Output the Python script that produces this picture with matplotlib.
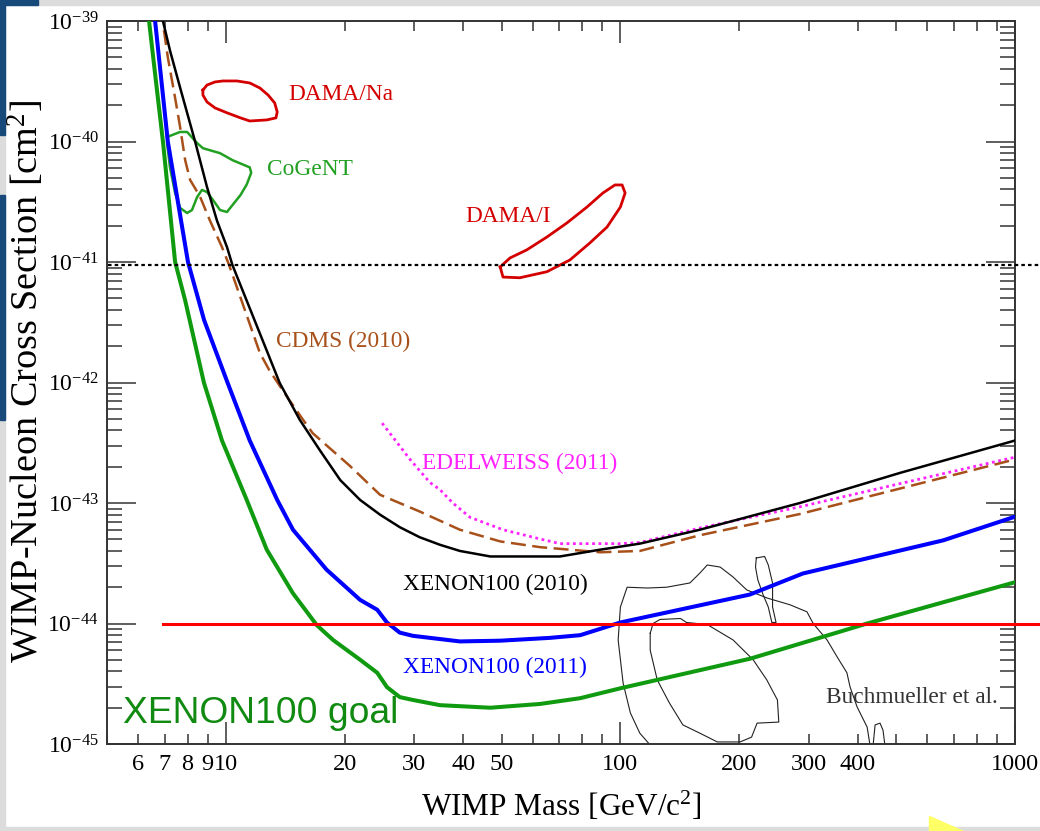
import numpy as np
import matplotlib
matplotlib.use('Agg')
import matplotlib.pyplot as plt
from matplotlib.ticker import LogLocator, FixedLocator, FuncFormatter, NullFormatter
from matplotlib.patches import Rectangle, Polygon

plt.rcParams['font.family'] = ['Liberation Serif', 'DejaVu Serif']
plt.rcParams['mathtext.fontset'] = 'custom'
plt.rcParams['mathtext.rm'] = 'Liberation Serif'
plt.rcParams['mathtext.it'] = 'Liberation Serif:italic'
plt.rcParams['mathtext.bf'] = 'Liberation Serif:bold'

# ---------------- data (WIMP mass [GeV], cross-section [cm^2]) ----------------
goal_mass = [6.39, 6.65, 6.93, 7.44, 7.89, 8.8, 9.78, 11.3, 12.7, 14.8, 17.0, 18.7, 21.9, 24.2,
             25.6, 27.6, 29.8, 34.9, 46.8, 62.6, 79.1, 100, 213, 422, 1000]
goal_xsec = [1e-39, 3.2e-40, 1e-40, 1e-41, 4.8e-42, 1e-42, 3.3e-43, 1.06e-43, 4.1e-44, 1.78e-44,
             9.7e-45, 7.3e-45, 5.0e-45, 3.9e-45, 2.97e-45, 2.45e-45, 2.32e-45, 2.1e-45, 2.0e-45,
             2.15e-45, 2.4e-45, 2.9e-45, 5.1e-45, 1.0e-44, 2.2e-44]

x11_mass = [6.62, 7.13, 8.02, 8.81, 10.1, 11.5, 13.5, 14.8, 18.0, 21.9, 24.2, 25.6, 27.6, 29.8,
            39.2, 49.6, 66.3, 79.1, 100, 213, 290, 658, 1000]
x11_xsec = [1e-39, 1e-40, 1e-41, 3.3e-42, 1e-42, 3.3e-43, 1.06e-43, 6.0e-44, 2.8e-44, 1.57e-44,
            1.30e-44, 1.02e-44, 8.4e-45, 7.9e-45, 7.1e-45, 7.2e-45, 7.6e-45, 8.0e-45, 1.02e-44,
            1.74e-44, 2.6e-44, 4.9e-44, 7.7e-44]

x10_mass = [6.93, 7.22, 7.66, 8.36, 8.96, 9.5, 10.07, 10.4, 13.7, 15.4, 17.3, 19.5, 21.9, 24.6,
            27.6, 31.0, 34.9, 39.2, 46.8, 70.3, 88.9, 112, 159, 285, 512, 1000]
x10_xsec = [1e-39, 5.7e-40, 2.8e-40, 1e-40, 4.2e-41, 2.2e-41, 1.33e-41, 9.4e-42, 9.9e-43, 4.9e-43,
            2.75e-43, 1.55e-43, 1.06e-43, 8.0e-44, 6.3e-44, 5.2e-44, 4.5e-44, 4.0e-44, 3.6e-44,
            3.6e-44, 4.1e-44, 4.6e-44, 6.0e-44, 1.0e-43, 1.78e-43, 3.3e-43]

cdms_mass = [6.97, 7.13, 7.44, 7.66, 7.89, 8.12, 8.60, 9.12, 9.78, 10.2, 12.2, 12.9, 14.3, 15.7,
             16.6, 20.6, 24.6, 31.0, 39.2, 49.6, 62.6, 88.9, 112, 159, 285, 512, 1000]
cdms_xsec = [8.4e-40, 5.0e-40, 2.3e-40, 1.32e-40, 7.0e-41, 4.8e-41, 3.5e-41, 2.2e-41, 1.33e-41,
             9.4e-42, 1.76e-42, 1.26e-42, 7.6e-43, 4.9e-43, 3.8e-43, 2.04e-43, 1.17e-43, 8.5e-44,
             6.0e-44, 4.8e-44, 4.3e-44, 3.9e-44, 4.0e-44, 5.4e-44, 8.1e-44, 1.32e-43, 2.3e-43]

edel_mass = [24.9, 29.3, 32.9, 34.9, 37.6, 41.6, 50.4, 61.5, 70.3, 82.3, 100, 112, 159, 285, 512, 1000]
edel_xsec = [4.6e-43, 2.3e-43, 1.48e-43, 1.29e-43, 1.0e-43, 7.6e-44, 6.0e-44, 5.1e-44, 4.6e-44,
             4.6e-44, 4.6e-44, 4.7e-44, 6.2e-44, 9.3e-44, 1.45e-43, 2.4e-43]

damana_mass = [8.75, 8.96, 9.39, 9.84, 10.67, 11.5, 12.2, 12.8, 13.3, 13.5, 13.4, 12.7, 11.5,
               10.9, 10.07, 9.39, 8.96, 8.75, 8.75]
damana_xsec = [2.67e-40, 2.94e-40, 3.12e-40, 3.18e-40, 3.18e-40, 3.06e-40, 2.78e-40, 2.43e-40,
               2.09e-40, 1.76e-40, 1.57e-40, 1.51e-40, 1.48e-40, 1.57e-40, 1.73e-40, 1.90e-40,
               2.13e-40, 2.43e-40, 2.67e-40]

cogent_mass = [7.10, 7.66, 7.98, 8.46, 8.75, 9.67, 10.4, 11.5, 11.6, 11.3, 10.9, 10.4, 10.07,
               9.67, 9.28, 8.96, 8.70, 8.46, 8.21, 7.98, 7.66, 7.44, 7.22, 7.10, 7.10]
cogent_xsec = [1.09e-40, 1.20e-40, 1.20e-40, 9.7e-41, 8.8e-41, 8.0e-41, 7.0e-41, 6.1e-41, 5.5e-41,
               4.4e-41, 3.6e-41, 2.97e-41, 2.60e-41, 2.70e-41, 3.27e-41, 3.81e-41, 3.96e-41,
               3.46e-41, 2.70e-41, 2.55e-41, 2.81e-41, 3.74e-41, 6.1e-41, 9.7e-41, 1.09e-40]

damai_mass = [49.6, 50.4, 55.6, 65.1, 74.5, 83.7, 92.5, 100, 102.8, 101, 96.9, 90.3, 82.3, 73.2,
              65.1, 57.9, 52.5, 49.6]
damai_xsec = [9.1e-42, 7.5e-42, 7.4e-42, 8.3e-42, 1.04e-41, 1.44e-41, 1.95e-41, 2.86e-41, 3.74e-41,
              4.36e-41, 4.36e-41, 3.74e-41, 2.86e-41, 2.11e-41, 1.61e-41, 1.26e-41, 1.08e-41, 9.1e-42]

buch_outer_mass = [119, 112, 106, 101.6, 98.7, 100, 104, 117, 131, 150, 159, 166, 179, 193, 209,
                   235, 269, 297, 308, 334, 354, 375, 382, 398, 422, 429]
buch_outer_xsec = [9.8e-46, 1.23e-45, 1.81e-45, 3.2e-45, 7.3e-45, 1.37e-44, 2.0e-44, 1.97e-44,
                   2.0e-44, 2.17e-44, 2.62e-44, 3.06e-44, 2.94e-44, 2.43e-44, 1.90e-44, 1.63e-44,
                   1.43e-44, 1.25e-44, 1.0e-44, 7.3e-45, 5.3e-45, 3.9e-45, 2.97e-45, 2.03e-45,
                   1.38e-45, 9.8e-46]

buch_inner_mass = [119, 121, 126, 142, 147, 166, 193, 217, 235, 250, 252, 222, 215, 201, 176, 159,
                   144, 133, 124, 119, 119]
buch_inner_xsec = [8.3e-45, 1.0e-44, 1.08e-44, 1.10e-44, 1.02e-44, 9.8e-45, 7.3e-45, 5.0e-45,
                   3.4e-45, 2.32e-45, 1.52e-45, 1.49e-45, 1.14e-45, 1.04e-45, 1.04e-45, 1.23e-45,
                   1.44e-45, 2.2e-45, 3.4e-45, 6.0e-45, 8.3e-45]

buch_blob_mass = [221, 232, 237, 243, 243, 248, 242, 237, 230, 223, 220, 221]
buch_blob_xsec = [3.5e-44, 3.6e-44, 3.06e-44, 2.17e-44, 1.37e-44, 1.02e-44, 1.02e-44, 1.37e-44,
                  1.73e-44, 2.3e-44, 2.94e-44, 3.5e-44]

buch_bump_mass = [437, 442, 455, 463, 468]
buch_bump_xsec = [9.8e-46, 1.44e-45, 1.49e-45, 1.30e-45, 9.8e-46]

dotted_level = 9.4e-42
dotted_range = [5.03, 1160]
red_level = 1e-44
red_range = [6.93, 1160]

xtick_labelled = [6, 7, 8, 9, 10, 20, 30, 40, 50, 100, 200, 300, 400, 1000]
ytick_exponents = [-45, -44, -43, -42, -41, -40, -39]

# ---------------- figure ----------------
W, H = 1040, 831
fig = plt.figure(figsize=(W / 100, H / 100), dpi=100)
fig.patch.set_facecolor('white')

# slide frame decorations
gray = '#dcdcdc'
navy = '#17497a'
fig.patches.append(Rectangle((0, 1 - 5 / H), 1, 5 / H, transform=fig.transFigure,
                             color=gray, zorder=0))
fig.patches.append(Rectangle((0, 0), 1, 4 / H, transform=fig.transFigure,
                             color=gray, zorder=0))
fig.patches.append(Rectangle((0, 0), 5 / W, 1, transform=fig.transFigure,
                             color=gray, zorder=0))
fig.patches.append(Rectangle((0, 1 - 5 / H), 38 / W, 5 / H, transform=fig.transFigure,
                             color=navy, zorder=1))
fig.patches.append(Rectangle((0, 1 - 135 / H), 5 / W, 135 / H, transform=fig.transFigure,
                             color=navy, zorder=1))
fig.patches.append(Rectangle((0, 1 - 420 / H), 5 / W, 225 / H, transform=fig.transFigure,
                             color=navy, zorder=1))
fig.patches.append(Polygon([(929 / W, 1 - 816 / H), (929 / W, 0), (963 / W, 0)],
                           closed=True, transform=fig.transFigure, color='#ffff66', zorder=2))

ax = fig.add_axes([107 / W, 1 - 744 / H, 908 / W, 723 / H])
ax.set_xscale('log')
ax.set_yscale('log')
ax.set_xlim(5, 1000)
ax.set_ylim(1e-45, 1e-39)

green = '#109a10'
blue = '#0000ff'
brown = '#a8501a'
magenta = '#ff22ff'
dred = '#d40000'

# Buchmueller et al. contours
for mx, sy in [(buch_outer_mass, buch_outer_xsec), (buch_inner_mass, buch_inner_xsec),
               (buch_blob_mass, buch_blob_xsec), (buch_bump_mass, buch_bump_xsec)]:
    ax.plot(mx, sy, color='#222222', lw=0.8, zorder=2)

# signal regions
ax.plot(damana_mass, damana_xsec, color=dred, lw=2.0, zorder=3, solid_joinstyle='round')
ax.plot(damai_mass, damai_xsec, color=dred, lw=2.0, zorder=3, solid_joinstyle='round')
ax.plot(cogent_mass, cogent_xsec, color='#22a022', lw=1.8, zorder=3, solid_joinstyle='round')

# limits
ax.plot(goal_mass, goal_xsec, color=green, lw=2.9, zorder=4, solid_joinstyle='round')
ax.plot(x11_mass, x11_xsec, color=blue, lw=2.9, zorder=5, solid_joinstyle='round')
ax.plot(edel_mass, edel_xsec, color=magenta, lw=2.0, dashes=(1.0, 1.3), zorder=4)
ax.plot(cdms_mass, cdms_xsec, color=brown, lw=1.8, dashes=(6, 2.6), zorder=4)
ax.plot(x10_mass, x10_xsec, color='black', lw=1.8, zorder=5, solid_joinstyle='round')

# overlay lines (extend past the frame)
ax.plot(dotted_range, [dotted_level] * 2, color='black', lw=1.6, dashes=(1.6, 1.4),
        clip_on=False, zorder=6)
ax.plot(red_range, [red_level] * 2, color='#ff0000', lw=2.2, clip_on=False, zorder=6)

# labels
txt = [
    ('DAMA/Na', 14.4, 2.2e-40, dred),
    ('CoGeNT', 12.7, 5.3e-41, '#22a022'),
    ('DAMA/I', 40.4, 2.15e-41, dred),
    ('CDMS (2010)', 13.4, 1.97e-42, brown),
    ('EDELWEISS (2011)', 31.4, 1.91e-43, magenta),
    ('XENON100 (2010)', 28.1, 1.90e-44, 'black'),
    ('XENON100 (2011)', 28.1, 3.9e-45, blue),
    ('Buchmueller et al.', 332, 2.19e-45, '#333333'),
]
for s, xm, ys, c in txt:
    ax.text(xm, ys, s, color=c, fontsize=16.8, ha='left', va='baseline', zorder=7)

ax.text(5.49, 1.49e-45, 'XENON100 goal', color='#108a10', fontsize=26.8,
        family=['Liberation Sans', 'DejaVu Sans'], ha='left', va='baseline', zorder=7)

# ticks
ax.xaxis.set_major_locator(FixedLocator([10, 100, 1000]))
ax.xaxis.set_minor_locator(LogLocator(base=10, subs=np.arange(2, 10), numticks=20))
ax.xaxis.set_major_formatter(FuncFormatter(lambda v, p: '%d' % round(v)))
ax.xaxis.set_minor_formatter(FuncFormatter(
    lambda v, p: ('%d' % round(v)) if any(abs(v - t) < 1e-6 * t for t in xtick_labelled) else ''))

ax.yaxis.set_major_locator(FixedLocator([10.0 ** e for e in ytick_exponents]))
ax.yaxis.set_minor_locator(LogLocator(base=10, subs=np.arange(2, 10), numticks=20))
ax.yaxis.set_major_formatter(FuncFormatter(
    lambda v, p: r'$\mathregular{10^{%d}}$' % round(np.log10(v))))
ax.yaxis.set_minor_formatter(NullFormatter())

ax.tick_params(which='both', direction='in', top=True, right=True, color='#333333', width=1.1)
ax.tick_params(axis='x', which='both', labelsize=17.5, pad=7)
ax.tick_params(axis='x', which='major', length=16)
ax.tick_params(axis='x', which='minor', length=7.5)
ax.tick_params(axis='y', which='major', length=21, pad=6, labelsize=17)
ax.tick_params(axis='y', which='minor', length=10.5)
for sp in ax.spines.values():
    sp.set_color('#333333')
    sp.set_linewidth(1.4)

fig.text(561 / W, 1 - 806 / H, r'WIMP Mass [GeV/c$^{2}$]', fontsize=22.5, ha='center',
         va='center')
fig.text(26 / W, 1 - 382 / H, r'WIMP-Nucleon Cross Section [cm$^{2}$]', fontsize=27.5,
         rotation=90, ha='center', va='center')

fig.savefig('out.png', dpi=100)
